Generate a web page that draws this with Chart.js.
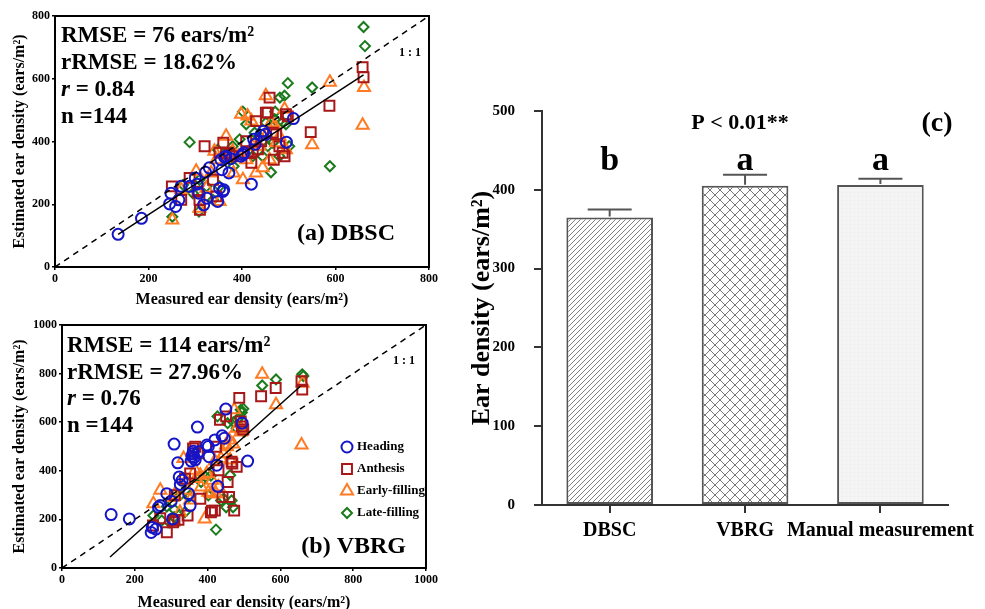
<!DOCTYPE html>
<html>
<head>
<meta charset="utf-8">
<script src="https://cdn.jsdelivr.net/npm/chart.js@4.4.1/dist/chart.umd.min.js"></script>
<style>
  body { margin: 0; background: #fff; width: 985px; height: 609px; overflow: hidden; position: relative; }
  .box { position: absolute; }
</style>
</head>
<body>
<div class="box" style="left:0;top:0;width:440px;height:310px"><canvas id="chartA"></canvas></div>
<div class="box" style="left:0;top:310px;width:440px;height:310px"><canvas id="chartB"></canvas></div>
<div class="box" style="left:450px;top:80px;width:535px;height:500px"><canvas id="chartC"></canvas></div>

<script>
// ---------------- data ----------------
const stageNames = ['Heading', 'Anthesis', 'Early-filling', 'Late-filling'];

const headingX    = [135,185,245,248,258,265,270,288,300,304,308,318,322,325,330,348,352,355,357,359,361,363,366,372,376,398,402,404,420,425,428,440,446,450,495,510];
const headingDBSC = [104,155,201,235,193,214,257,257,284,264,235,198,302,219,316,209,251,342,310,241,246,350,353,300,345,353,358,364,264,407,391,420,433,423,398,473];
const headingVBRG = [220,202,146,167,160,250,257,306,275,202,510,433,375,344,361,306,257,440,460,470,480,455,445,580,478,506,500,458,527,423,336,544,534,654,596,440];

const anthesisX    = [250,270,288,305,309,310,320,338,345,352,360,366,373,380,409,412,420,423,430,434,441,451,455,459,466,468,473,480,487,491,494,498,547,587,658,660];
const anthesisDBSC = [257,214,284,240,214,182,385,278,225,364,396,364,360,353,401,364,332,369,465,375,401,492,492,540,428,342,423,385,364,353,487,480,430,514,637,605];
const anthesisVBRG = [175,205,147,188,195,300,198,368,216,389,492,499,472,285,229,236,236,499,402,610,292,624,354,292,437,430,236,416,700,603,582,570,707,741,769,734];

const earlyX    = [251,270,302,309,324,334,341,345,352,366,368,380,382,392,398,402,409,412,420,423,430,437,444,451,453,459,462,470,473,480,491,494,550,588,658,661];
const earlyDBSC = [150,246,305,187,251,300,369,342,209,417,353,369,300,353,487,278,342,481,465,385,300,385,316,546,423,342,460,450,396,417,503,374,390,589,452,572];
const earlyVBRG = [264,320,290,300,229,451,360,320,280,402,368,382,333,202,389,312,306,361,440,306,333,450,470,506,499,527,444,510,651,575,560,568,797,672,506,760];

const lateX    = [251,274,288,295,308,309,324,338,348,352,380,382,395,402,409,423,427,437,444,451,455,462,466,470,471,480,481,487,491,494,498,501,550,588,660,663];
const lateDBSC = [160,262,398,235,177,278,257,214,374,257,385,321,407,495,455,353,428,417,353,460,385,302,396,471,495,353,540,462,546,455,586,385,572,321,765,704];
const lateVBRG = [216,195,253,188,209,240,299,230,292,299,375,354,375,299,380,158,624,278,285,250,596,382,278,250,600,575,610,620,651,640,655,560,751,776,797,790];

// fitted lines (end points)
const fitAX = [135, 660], fitAY = [104, 612];
const fitBX = [132, 655], fitBY = [45, 748];

const ticksA = [0, 200, 400, 600, 800];
const ticksB = [0, 200, 400, 600, 800, 1000];

const statsA = ['RMSE = 76 ears/m²', 'rRMSE = 18.62%', '0.84', 'n =144'];
const statsB = ['RMSE = 114 ears/m²', 'rRMSE = 27.96%', '0.76', 'n =144'];

const methods = ['DBSC', 'VBRG', 'Manual measurement'];
const meanDensity = [365, 405, 406];
const errDensity = [10, 14, 8];
const groupLetters = ['b', 'a', 'a'];

// ---------------- styles ----------------
const serif = '"Liberation Serif", "Times New Roman", serif';
Chart.defaults.font.family = serif;
Chart.defaults.font.weight = 'bold';
Chart.defaults.color = '#000';
Chart.defaults.animation = false;

const stageColors = ['#1515c8', '#a81818', '#ff7a22', '#1b7a1b'];
const stageMarkers = ['circle', 'rect', 'triangle', 'rectRot'];
const stageRadius = [5.5, 7, 7, 5];

function points(xs, ys) {
  return xs.map(function (x, i) { return { x: x, y: ys[i] }; });
}

function stageSets(ests) {
  const xs = [headingX, anthesisX, earlyX, lateX];
  return stageNames.map(function (name, i) {
    return {
      type: 'scatter',
      label: name,
      data: points(xs[i], ests[i]),
      pointStyle: stageMarkers[i],
      pointRadius: stageRadius[i],
      borderColor: stageColors[i],
      backgroundColor: 'rgba(0,0,0,0)',
      borderWidth: 2,
      order: 1
    };
  });
}

function lineSet(xs, ys, dashed) {
  return {
    type: 'line',
    data: points(xs, ys),
    borderColor: '#000',
    borderWidth: 1.5,
    borderDash: dashed ? [6, 5] : [],
    pointRadius: 0,
    fill: false,
    order: 0
  };
}

// frame + texts inside the scatter panels
function scatterPlugin(stats, tag, p) {
  return {
    id: 'panelText',
    afterDraw: function (chart) {
      const ctx = chart.ctx, a = chart.chartArea;
      ctx.save();
      ctx.strokeStyle = '#000';
      ctx.lineWidth = 2;
      ctx.strokeRect(a.left, a.top, a.right - a.left, a.bottom - a.top);

      ctx.fillStyle = '#000';
      ctx.textBaseline = 'alphabetic';
      ctx.textAlign = 'left';
      const x0 = a.left + p.dx;
      stats.forEach(function (txt, i) {
        const y = a.top + p.dy + i * p.gap;
        if (i === 2) {
          ctx.font = 'italic bold 23px ' + serif;
          ctx.fillText('r', x0, y);
          const w = ctx.measureText('r').width;
          ctx.font = 'bold 23px ' + serif;
          ctx.fillText(' = ' + txt, x0 + w, y);
        } else {
          ctx.font = 'bold 23px ' + serif;
          ctx.fillText(txt, x0, y);
        }
      });

      ctx.font = 'bold 12px ' + serif;
      ctx.textAlign = 'right';
      ctx.textBaseline = 'middle';
      ctx.fillText('1 : 1', a.right - p.oneX, a.top + p.oneY);

      ctx.font = 'bold 24px ' + serif;
      ctx.textBaseline = 'alphabetic';
      ctx.fillText(tag, a.right - p.tagX, a.bottom - p.tagY);

      if (p.legend) {
        ctx.textAlign = 'left';
        ctx.textBaseline = 'middle';
        ctx.font = 'bold 13px ' + serif;
        stageNames.forEach(function (name, i) {
          const y = a.top + 122 + i * 22;
          const x = a.left + 285;
          ctx.strokeStyle = stageColors[i];
          ctx.fillStyle = 'rgba(0,0,0,0)';
          ctx.lineWidth = 2;
          Chart.helpers.drawPoint(ctx, { pointStyle: stageMarkers[i], radius: stageRadius[i], rotation: 0, borderWidth: 2 }, x, y);
          ctx.fillStyle = '#000';
          ctx.fillText(name, x + 10, y);
        });
      }
      ctx.restore();
    }
  };
}

function scatterScales(max, ticks, yw, xh, tPadX, tPadY) {
  const axisTitle = function (t, pad) {
    return { display: true, text: t, font: { size: 16, weight: 'bold' }, padding: pad, color: '#000' };
  };
  const common = {
    type: 'linear', min: 0, max: max,
    border: { display: true, color: '#000', width: 2 },
    grid: { drawOnChartArea: false, drawTicks: true, tickLength: 3, color: '#000', lineWidth: 1.5 },
    afterBuildTicks: function (s) { s.ticks = ticks.map(function (v) { return { value: v }; }); }
  };
  const plain = function (v) { return String(v); };
  return {
    x: Object.assign({}, common, {
      ticks: { font: { size: 12, weight: 'bold' }, padding: 2, maxRotation: 0, callback: plain },
      title: axisTitle('Measured ear density (ears/m²)', { top: 0, bottom: tPadX }),
      afterFit: function (s) { s.height = xh; }
    }),
    y: Object.assign({}, common, {
      ticks: { font: { size: 12, weight: 'bold' }, padding: 2, callback: plain },
      title: axisTitle('Estimated ear density (ears/m²)', { top: tPadY, bottom: 0 }),
      afterFit: function (s) { s.width = yw; }
    })
  };
}

// ---------------- (a) DBSC ----------------
new Chart(document.getElementById('chartA'), {
  type: 'scatter',
  data: {
    datasets: [lineSet(fitAX, fitAY, false), lineSet([0, 800], [0, 800], true)]
      .concat(stageSets([headingDBSC, anthesisDBSC, earlyDBSC, lateDBSC]))
  },
  options: {
    responsive: true,
    maintainAspectRatio: false,
    layout: { padding: { top: 16, right: 9, left: 0, bottom: 0 } },
    plugins: { legend: { display: false }, tooltip: { enabled: false } },
    scales: scatterScales(800, ticksA, 55, 43, 0.4, 10.4)
  },
  plugins: [scatterPlugin(statsA, '(a) DBSC', { dx: 6, dy: 26, gap: 27, oneX: 8, oneY: 37, tagX: 34, tagY: 27, legend: false })]
});

// ---------------- (b) VBRG ----------------
new Chart(document.getElementById('chartB'), {
  type: 'scatter',
  data: {
    datasets: [lineSet(fitBX, fitBY, false), lineSet([0, 1000], [0, 1000], true)]
      .concat(stageSets([headingVBRG, anthesisVBRG, earlyVBRG, lateVBRG]))
  },
  options: {
    responsive: true,
    maintainAspectRatio: false,
    layout: { padding: { top: 15, right: 12, left: 0, bottom: 0 } },
    plugins: { legend: { display: false }, tooltip: { enabled: false } },
    scales: scatterScales(1000, ticksB, 62, 52, 7.4, 10.4)
  },
  plugins: [scatterPlugin(statsB, '(b) VBRG', { dx: 5, dy: 27, gap: 26.7, oneX: 11, oneY: 36, tagX: 20, tagY: 15, legend: true })]
});

// ---------------- (c) bar chart ----------------
function tile(size, paint) {
  const c = document.createElement('canvas');
  c.width = size; c.height = size;
  const g = c.getContext('2d');
  paint(g, size);
  return g.createPattern(c, 'repeat');
}

const ctxC = document.getElementById('chartC').getContext('2d');

const diagFill = tile(5, function (g, s) {
  g.fillStyle = '#fff'; g.fillRect(0, 0, s, s);
  g.strokeStyle = '#808080'; g.lineWidth = 1;
  g.beginPath();
  g.moveTo(0, s); g.lineTo(s, 0);
  g.moveTo(-1, 1); g.lineTo(1, -1);
  g.moveTo(s - 1, s + 1); g.lineTo(s + 1, s - 1);
  g.stroke();
});

const crossFill = tile(10, function (g, s) {
  g.fillStyle = '#fff'; g.fillRect(0, 0, s, s);
  g.strokeStyle = '#777'; g.lineWidth = 1;
  g.beginPath();
  g.moveTo(0, 0); g.lineTo(s, s);
  g.moveTo(0, s); g.lineTo(s, 0);
  g.stroke();
});

const dotFill = tile(4, function (g, s) {
  g.fillStyle = '#f4f4f4'; g.fillRect(0, 0, s, s);
  g.fillStyle = '#e6e6e6'; g.fillRect(0, 0, 1, 1);
});

const barNotes = {
  id: 'barNotes',
  afterDatasetsDraw: function (chart) {
    const ctx = chart.ctx, a = chart.chartArea;
    const meta = chart.getDatasetMeta(0);
    const yS = chart.scales.y;
    ctx.save();
    ctx.strokeStyle = '#555';
    ctx.lineWidth = 2;
    meta.data.forEach(function (bar, i) {
      const top = yS.getPixelForValue(meanDensity[i]);
      const cap = yS.getPixelForValue(meanDensity[i] + errDensity[i]);
      ctx.beginPath();
      ctx.moveTo(bar.x, top - 1); ctx.lineTo(bar.x, cap);
      ctx.moveTo(bar.x - 22, cap); ctx.lineTo(bar.x + 22, cap);
      ctx.stroke();
    });

    ctx.fillStyle = '#000';
    ctx.textAlign = 'center';
    ctx.textBaseline = 'middle';
    ctx.font = 'bold 34px ' + serif;
    meta.data.forEach(function (bar, i) {
      ctx.fillText(groupLetters[i], bar.x, a.top + 50);
    });
    ctx.font = 'bold 22px ' + serif;
    ctx.fillText('P < 0.01**', a.left + 198, a.top + 12);
    ctx.font = 'bold 28px ' + serif;
    ctx.fillText('(c)', a.left + 395, a.top + 13);
    ctx.restore();
  }
};

new Chart(ctxC, {
  type: 'bar',
  data: {
    labels: methods,
    datasets: [{
      data: meanDensity,
      backgroundColor: [diagFill, crossFill, dotFill],
      borderColor: '#555',
      borderWidth: 2,
      borderSkipped: false,
      barPercentage: 0.64,
      categoryPercentage: 1
    }]
  },
  options: {
    responsive: true,
    maintainAspectRatio: false,
    layout: { padding: { top: 31, right: 31, left: 0, bottom: 0 } },
    plugins: { legend: { display: false }, tooltip: { enabled: false } },
    scales: {
      x: {
        border: { display: true, color: '#333', width: 2 },
        grid: { drawOnChartArea: false, drawTicks: true, tickLength: 8, offset: false, color: '#333', lineWidth: 2 },
        ticks: { font: { size: 20, weight: 'bold' }, padding: 6, maxRotation: 0, minRotation: 0, autoSkip: false },
        afterFit: function (s) { s.height = 75; }
      },
      y: {
        min: 0,
        max: 500,
        border: { display: true, color: '#333', width: 2 },
        grid: { drawOnChartArea: false, drawTicks: true, tickLength: 8, color: '#333', lineWidth: 2 },
        ticks: { stepSize: 100, font: { size: 15, weight: 'bold' }, padding: 19 },
        title: { display: true, text: 'Ear density (ears/m²)', font: { size: 26, weight: 'bold' }, padding: { top: 17, bottom: 0 }, color: '#000' },
        afterFit: function (s) { s.width = 92; }
      }
    }
  },
  plugins: [barNotes]
});
</script>
</body>
</html>
